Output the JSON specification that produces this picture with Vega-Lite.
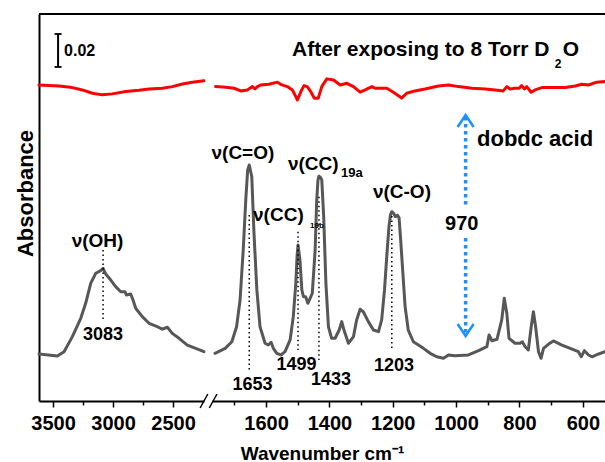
{
  "$schema": "https://vega.github.io/schema/vega-lite/v6.json",
  "autosize": {"type": "none"},
  "padding": {"left": 39, "top": 14, "right": 0, "bottom": 61},
  "width": 566,
  "height": 387,
  "config": {
    "view": {"stroke": null},
    "font": "Liberation Sans",
    "text": {"font": "Liberation Sans", "fontWeight": "bold", "color": "black", "baseline": "middle"}
  },
  "datasets": {
    "spectra": [
      {"wavenumber": 3617, "absorbance": 0.0285, "spectrum": "dobdc acid", "segment": "high"},
      {"wavenumber": 3464, "absorbance": 0.0273, "spectrum": "dobdc acid", "segment": "high"},
      {"wavenumber": 3408, "absorbance": 0.0299, "spectrum": "dobdc acid", "segment": "high"},
      {"wavenumber": 3339, "absorbance": 0.0390, "spectrum": "dobdc acid", "segment": "high"},
      {"wavenumber": 3269, "absorbance": 0.0501, "spectrum": "dobdc acid", "segment": "high"},
      {"wavenumber": 3228, "absorbance": 0.0592, "spectrum": "dobdc acid", "segment": "high"},
      {"wavenumber": 3186, "absorbance": 0.0713, "spectrum": "dobdc acid", "segment": "high"},
      {"wavenumber": 3144, "absorbance": 0.0774, "spectrum": "dobdc acid", "segment": "high"},
      {"wavenumber": 3103, "absorbance": 0.0790, "spectrum": "dobdc acid", "segment": "high"},
      {"wavenumber": 3083, "absorbance": 0.0804, "spectrum": "dobdc acid", "segment": "high"},
      {"wavenumber": 3061, "absorbance": 0.0770, "spectrum": "dobdc acid", "segment": "high"},
      {"wavenumber": 3019, "absorbance": 0.0733, "spectrum": "dobdc acid", "segment": "high"},
      {"wavenumber": 2978, "absorbance": 0.0693, "spectrum": "dobdc acid", "segment": "high"},
      {"wavenumber": 2936, "absorbance": 0.0662, "spectrum": "dobdc acid", "segment": "high"},
      {"wavenumber": 2900, "absorbance": 0.0662, "spectrum": "dobdc acid", "segment": "high"},
      {"wavenumber": 2889, "absorbance": 0.0642, "spectrum": "dobdc acid", "segment": "high"},
      {"wavenumber": 2853, "absorbance": 0.0648, "spectrum": "dobdc acid", "segment": "high"},
      {"wavenumber": 2833, "absorbance": 0.0612, "spectrum": "dobdc acid", "segment": "high"},
      {"wavenumber": 2811, "absorbance": 0.0562, "spectrum": "dobdc acid", "segment": "high"},
      {"wavenumber": 2756, "absorbance": 0.0511, "spectrum": "dobdc acid", "segment": "high"},
      {"wavenumber": 2700, "absorbance": 0.0471, "spectrum": "dobdc acid", "segment": "high"},
      {"wavenumber": 2631, "absorbance": 0.0450, "spectrum": "dobdc acid", "segment": "high"},
      {"wavenumber": 2589, "absorbance": 0.0435, "spectrum": "dobdc acid", "segment": "high"},
      {"wavenumber": 2547, "absorbance": 0.0447, "spectrum": "dobdc acid", "segment": "high"},
      {"wavenumber": 2506, "absorbance": 0.0410, "spectrum": "dobdc acid", "segment": "high"},
      {"wavenumber": 2450, "absorbance": 0.0380, "spectrum": "dobdc acid", "segment": "high"},
      {"wavenumber": 2381, "absorbance": 0.0339, "spectrum": "dobdc acid", "segment": "high"},
      {"wavenumber": 2311, "absorbance": 0.0319, "spectrum": "dobdc acid", "segment": "high"},
      {"wavenumber": 2242, "absorbance": 0.0299, "spectrum": "dobdc acid", "segment": "high"},
      {"wavenumber": 1761, "absorbance": 0.0289, "spectrum": "dobdc acid", "segment": "low"},
      {"wavenumber": 1729, "absorbance": 0.0319, "spectrum": "dobdc acid", "segment": "low"},
      {"wavenumber": 1708, "absorbance": 0.0359, "spectrum": "dobdc acid", "segment": "low"},
      {"wavenumber": 1693, "absorbance": 0.0450, "spectrum": "dobdc acid", "segment": "low"},
      {"wavenumber": 1682, "absorbance": 0.0612, "spectrum": "dobdc acid", "segment": "low"},
      {"wavenumber": 1672, "absorbance": 0.0915, "spectrum": "dobdc acid", "segment": "low"},
      {"wavenumber": 1664, "absorbance": 0.1218, "spectrum": "dobdc acid", "segment": "low"},
      {"wavenumber": 1658, "absorbance": 0.1400, "spectrum": "dobdc acid", "segment": "low"},
      {"wavenumber": 1653, "absorbance": 0.1430, "spectrum": "dobdc acid", "segment": "low"},
      {"wavenumber": 1645, "absorbance": 0.1359, "spectrum": "dobdc acid", "segment": "low"},
      {"wavenumber": 1638, "absorbance": 0.1016, "spectrum": "dobdc acid", "segment": "low"},
      {"wavenumber": 1629, "absorbance": 0.0673, "spectrum": "dobdc acid", "segment": "low"},
      {"wavenumber": 1619, "absorbance": 0.0450, "spectrum": "dobdc acid", "segment": "low"},
      {"wavenumber": 1603, "absorbance": 0.0350, "spectrum": "dobdc acid", "segment": "low"},
      {"wavenumber": 1593, "absorbance": 0.0339, "spectrum": "dobdc acid", "segment": "low"},
      {"wavenumber": 1584, "absorbance": 0.0356, "spectrum": "dobdc acid", "segment": "low"},
      {"wavenumber": 1577, "absorbance": 0.0319, "spectrum": "dobdc acid", "segment": "low"},
      {"wavenumber": 1566, "absorbance": 0.0289, "spectrum": "dobdc acid", "segment": "low"},
      {"wavenumber": 1553, "absorbance": 0.0279, "spectrum": "dobdc acid", "segment": "low"},
      {"wavenumber": 1540, "absorbance": 0.0299, "spectrum": "dobdc acid", "segment": "low"},
      {"wavenumber": 1524, "absorbance": 0.0370, "spectrum": "dobdc acid", "segment": "low"},
      {"wavenumber": 1514, "absorbance": 0.0511, "spectrum": "dobdc acid", "segment": "low"},
      {"wavenumber": 1506, "absorbance": 0.0713, "spectrum": "dobdc acid", "segment": "low"},
      {"wavenumber": 1502, "absorbance": 0.0880, "spectrum": "dobdc acid", "segment": "low"},
      {"wavenumber": 1499, "absorbance": 0.0945, "spectrum": "dobdc acid", "segment": "low"},
      {"wavenumber": 1493, "absorbance": 0.0855, "spectrum": "dobdc acid", "segment": "low"},
      {"wavenumber": 1487, "absorbance": 0.0673, "spectrum": "dobdc acid", "segment": "low"},
      {"wavenumber": 1482, "absorbance": 0.0632, "spectrum": "dobdc acid", "segment": "low"},
      {"wavenumber": 1475, "absorbance": 0.0632, "spectrum": "dobdc acid", "segment": "low"},
      {"wavenumber": 1468, "absorbance": 0.0592, "spectrum": "dobdc acid", "segment": "low"},
      {"wavenumber": 1461, "absorbance": 0.0622, "spectrum": "dobdc acid", "segment": "low"},
      {"wavenumber": 1454, "absorbance": 0.0653, "spectrum": "dobdc acid", "segment": "low"},
      {"wavenumber": 1445, "absorbance": 0.0915, "spectrum": "dobdc acid", "segment": "low"},
      {"wavenumber": 1440, "absorbance": 0.1218, "spectrum": "dobdc acid", "segment": "low"},
      {"wavenumber": 1436, "absorbance": 0.1340, "spectrum": "dobdc acid", "segment": "low"},
      {"wavenumber": 1433, "absorbance": 0.1362, "spectrum": "dobdc acid", "segment": "low"},
      {"wavenumber": 1428, "absorbance": 0.1355, "spectrum": "dobdc acid", "segment": "low"},
      {"wavenumber": 1424, "absorbance": 0.1339, "spectrum": "dobdc acid", "segment": "low"},
      {"wavenumber": 1418, "absorbance": 0.1117, "spectrum": "dobdc acid", "segment": "low"},
      {"wavenumber": 1411, "absorbance": 0.0713, "spectrum": "dobdc acid", "segment": "low"},
      {"wavenumber": 1403, "absorbance": 0.0450, "spectrum": "dobdc acid", "segment": "low"},
      {"wavenumber": 1393, "absorbance": 0.0380, "spectrum": "dobdc acid", "segment": "low"},
      {"wavenumber": 1382, "absorbance": 0.0380, "spectrum": "dobdc acid", "segment": "low"},
      {"wavenumber": 1369, "absorbance": 0.0430, "spectrum": "dobdc acid", "segment": "low"},
      {"wavenumber": 1361, "absorbance": 0.0481, "spectrum": "dobdc acid", "segment": "low"},
      {"wavenumber": 1354, "absorbance": 0.0430, "spectrum": "dobdc acid", "segment": "low"},
      {"wavenumber": 1340, "absorbance": 0.0350, "spectrum": "dobdc acid", "segment": "low"},
      {"wavenumber": 1324, "absorbance": 0.0390, "spectrum": "dobdc acid", "segment": "low"},
      {"wavenumber": 1314, "absorbance": 0.0491, "spectrum": "dobdc acid", "segment": "low"},
      {"wavenumber": 1303, "absorbance": 0.0556, "spectrum": "dobdc acid", "segment": "low"},
      {"wavenumber": 1293, "absorbance": 0.0541, "spectrum": "dobdc acid", "segment": "low"},
      {"wavenumber": 1277, "absorbance": 0.0481, "spectrum": "dobdc acid", "segment": "low"},
      {"wavenumber": 1261, "absorbance": 0.0430, "spectrum": "dobdc acid", "segment": "low"},
      {"wavenumber": 1245, "absorbance": 0.0420, "spectrum": "dobdc acid", "segment": "low"},
      {"wavenumber": 1235, "absorbance": 0.0491, "spectrum": "dobdc acid", "segment": "low"},
      {"wavenumber": 1226, "absorbance": 0.0673, "spectrum": "dobdc acid", "segment": "low"},
      {"wavenumber": 1219, "absorbance": 0.0875, "spectrum": "dobdc acid", "segment": "low"},
      {"wavenumber": 1212, "absorbance": 0.1056, "spectrum": "dobdc acid", "segment": "low"},
      {"wavenumber": 1207, "absorbance": 0.1130, "spectrum": "dobdc acid", "segment": "low"},
      {"wavenumber": 1203, "absorbance": 0.1147, "spectrum": "dobdc acid", "segment": "low"},
      {"wavenumber": 1198, "absorbance": 0.1140, "spectrum": "dobdc acid", "segment": "low"},
      {"wavenumber": 1192, "absorbance": 0.1117, "spectrum": "dobdc acid", "segment": "low"},
      {"wavenumber": 1185, "absorbance": 0.1125, "spectrum": "dobdc acid", "segment": "low"},
      {"wavenumber": 1180, "absorbance": 0.1110, "spectrum": "dobdc acid", "segment": "low"},
      {"wavenumber": 1175, "absorbance": 0.0976, "spectrum": "dobdc acid", "segment": "low"},
      {"wavenumber": 1168, "absorbance": 0.0774, "spectrum": "dobdc acid", "segment": "low"},
      {"wavenumber": 1161, "absorbance": 0.0572, "spectrum": "dobdc acid", "segment": "low"},
      {"wavenumber": 1151, "absorbance": 0.0430, "spectrum": "dobdc acid", "segment": "low"},
      {"wavenumber": 1135, "absorbance": 0.0359, "spectrum": "dobdc acid", "segment": "low"},
      {"wavenumber": 1119, "absorbance": 0.0339, "spectrum": "dobdc acid", "segment": "low"},
      {"wavenumber": 1103, "absorbance": 0.0319, "spectrum": "dobdc acid", "segment": "low"},
      {"wavenumber": 1082, "absorbance": 0.0289, "spectrum": "dobdc acid", "segment": "low"},
      {"wavenumber": 1061, "absorbance": 0.0268, "spectrum": "dobdc acid", "segment": "low"},
      {"wavenumber": 1040, "absorbance": 0.0259, "spectrum": "dobdc acid", "segment": "low"},
      {"wavenumber": 1024, "absorbance": 0.0279, "spectrum": "dobdc acid", "segment": "low"},
      {"wavenumber": 1003, "absorbance": 0.0274, "spectrum": "dobdc acid", "segment": "low"},
      {"wavenumber": 961, "absorbance": 0.0279, "spectrum": "dobdc acid", "segment": "low"},
      {"wavenumber": 929, "absorbance": 0.0305, "spectrum": "dobdc acid", "segment": "low"},
      {"wavenumber": 903, "absorbance": 0.0329, "spectrum": "dobdc acid", "segment": "low"},
      {"wavenumber": 896, "absorbance": 0.0400, "spectrum": "dobdc acid", "segment": "low"},
      {"wavenumber": 887, "absorbance": 0.0365, "spectrum": "dobdc acid", "segment": "low"},
      {"wavenumber": 871, "absorbance": 0.0374, "spectrum": "dobdc acid", "segment": "low"},
      {"wavenumber": 856, "absorbance": 0.0491, "spectrum": "dobdc acid", "segment": "low"},
      {"wavenumber": 848, "absorbance": 0.0622, "spectrum": "dobdc acid", "segment": "low"},
      {"wavenumber": 840, "absorbance": 0.0532, "spectrum": "dobdc acid", "segment": "low"},
      {"wavenumber": 833, "absorbance": 0.0380, "spectrum": "dobdc acid", "segment": "low"},
      {"wavenumber": 814, "absorbance": 0.0350, "spectrum": "dobdc acid", "segment": "low"},
      {"wavenumber": 798, "absorbance": 0.0350, "spectrum": "dobdc acid", "segment": "low"},
      {"wavenumber": 791, "absorbance": 0.0359, "spectrum": "dobdc acid", "segment": "low"},
      {"wavenumber": 782, "absorbance": 0.0329, "spectrum": "dobdc acid", "segment": "low"},
      {"wavenumber": 772, "absorbance": 0.0309, "spectrum": "dobdc acid", "segment": "low"},
      {"wavenumber": 763, "absorbance": 0.0450, "spectrum": "dobdc acid", "segment": "low"},
      {"wavenumber": 756, "absorbance": 0.0541, "spectrum": "dobdc acid", "segment": "low"},
      {"wavenumber": 749, "absorbance": 0.0450, "spectrum": "dobdc acid", "segment": "low"},
      {"wavenumber": 740, "absorbance": 0.0299, "spectrum": "dobdc acid", "segment": "low"},
      {"wavenumber": 732, "absorbance": 0.0259, "spectrum": "dobdc acid", "segment": "low"},
      {"wavenumber": 724, "absorbance": 0.0319, "spectrum": "dobdc acid", "segment": "low"},
      {"wavenumber": 708, "absorbance": 0.0345, "spectrum": "dobdc acid", "segment": "low"},
      {"wavenumber": 693, "absorbance": 0.0364, "spectrum": "dobdc acid", "segment": "low"},
      {"wavenumber": 666, "absorbance": 0.0339, "spectrum": "dobdc acid", "segment": "low"},
      {"wavenumber": 640, "absorbance": 0.0319, "spectrum": "dobdc acid", "segment": "low"},
      {"wavenumber": 614, "absorbance": 0.0299, "spectrum": "dobdc acid", "segment": "low"},
      {"wavenumber": 605, "absorbance": 0.0268, "spectrum": "dobdc acid", "segment": "low"},
      {"wavenumber": 595, "absorbance": 0.0305, "spectrum": "dobdc acid", "segment": "low"},
      {"wavenumber": 582, "absorbance": 0.0279, "spectrum": "dobdc acid", "segment": "low"},
      {"wavenumber": 571, "absorbance": 0.0268, "spectrum": "dobdc acid", "segment": "low"},
      {"wavenumber": 550, "absorbance": 0.0285, "spectrum": "dobdc acid", "segment": "low"},
      {"wavenumber": 530, "absorbance": 0.0299, "spectrum": "dobdc acid", "segment": "low"},
      {"wavenumber": 3617, "absorbance": 0.1915, "spectrum": "D2O", "segment": "high"},
      {"wavenumber": 3450, "absorbance": 0.1909, "spectrum": "D2O", "segment": "high"},
      {"wavenumber": 3339, "absorbance": 0.1899, "spectrum": "D2O", "segment": "high"},
      {"wavenumber": 3256, "absorbance": 0.1885, "spectrum": "D2O", "segment": "high"},
      {"wavenumber": 3172, "absorbance": 0.1865, "spectrum": "D2O", "segment": "high"},
      {"wavenumber": 3089, "absorbance": 0.1855, "spectrum": "D2O", "segment": "high"},
      {"wavenumber": 3006, "absorbance": 0.1861, "spectrum": "D2O", "segment": "high"},
      {"wavenumber": 2894, "absorbance": 0.1875, "spectrum": "D2O", "segment": "high"},
      {"wavenumber": 2783, "absorbance": 0.1883, "spectrum": "D2O", "segment": "high"},
      {"wavenumber": 2700, "absorbance": 0.1891, "spectrum": "D2O", "segment": "high"},
      {"wavenumber": 2589, "absorbance": 0.1895, "spectrum": "D2O", "segment": "high"},
      {"wavenumber": 2506, "absorbance": 0.1905, "spectrum": "D2O", "segment": "high"},
      {"wavenumber": 2422, "absorbance": 0.1921, "spectrum": "D2O", "segment": "high"},
      {"wavenumber": 2339, "absorbance": 0.1932, "spectrum": "D2O", "segment": "high"},
      {"wavenumber": 2242, "absorbance": 0.1941, "spectrum": "D2O", "segment": "high"},
      {"wavenumber": 1759, "absorbance": 0.1905, "spectrum": "D2O", "segment": "low"},
      {"wavenumber": 1727, "absorbance": 0.1901, "spectrum": "D2O", "segment": "low"},
      {"wavenumber": 1701, "absorbance": 0.1895, "spectrum": "D2O", "segment": "low"},
      {"wavenumber": 1680, "absorbance": 0.1879, "spectrum": "D2O", "segment": "low"},
      {"wavenumber": 1659, "absorbance": 0.1885, "spectrum": "D2O", "segment": "low"},
      {"wavenumber": 1643, "absorbance": 0.1905, "spectrum": "D2O", "segment": "low"},
      {"wavenumber": 1635, "absorbance": 0.1891, "spectrum": "D2O", "segment": "low"},
      {"wavenumber": 1627, "absorbance": 0.1905, "spectrum": "D2O", "segment": "low"},
      {"wavenumber": 1617, "absorbance": 0.1915, "spectrum": "D2O", "segment": "low"},
      {"wavenumber": 1591, "absorbance": 0.1919, "spectrum": "D2O", "segment": "low"},
      {"wavenumber": 1564, "absorbance": 0.1932, "spectrum": "D2O", "segment": "low"},
      {"wavenumber": 1554, "absorbance": 0.1919, "spectrum": "D2O", "segment": "low"},
      {"wavenumber": 1533, "absorbance": 0.1905, "spectrum": "D2O", "segment": "low"},
      {"wavenumber": 1517, "absorbance": 0.1885, "spectrum": "D2O", "segment": "low"},
      {"wavenumber": 1506, "absorbance": 0.1844, "spectrum": "D2O", "segment": "low"},
      {"wavenumber": 1501, "absorbance": 0.1824, "spectrum": "D2O", "segment": "low"},
      {"wavenumber": 1490, "absorbance": 0.1875, "spectrum": "D2O", "segment": "low"},
      {"wavenumber": 1480, "absorbance": 0.1911, "spectrum": "D2O", "segment": "low"},
      {"wavenumber": 1470, "absorbance": 0.1905, "spectrum": "D2O", "segment": "low"},
      {"wavenumber": 1459, "absorbance": 0.1875, "spectrum": "D2O", "segment": "low"},
      {"wavenumber": 1448, "absorbance": 0.1835, "spectrum": "D2O", "segment": "low"},
      {"wavenumber": 1435, "absorbance": 0.1835, "spectrum": "D2O", "segment": "low"},
      {"wavenumber": 1424, "absorbance": 0.1905, "spectrum": "D2O", "segment": "low"},
      {"wavenumber": 1408, "absorbance": 0.1952, "spectrum": "D2O", "segment": "low"},
      {"wavenumber": 1387, "absorbance": 0.1945, "spectrum": "D2O", "segment": "low"},
      {"wavenumber": 1366, "absorbance": 0.1915, "spectrum": "D2O", "segment": "low"},
      {"wavenumber": 1345, "absorbance": 0.1925, "spectrum": "D2O", "segment": "low"},
      {"wavenumber": 1324, "absorbance": 0.1905, "spectrum": "D2O", "segment": "low"},
      {"wavenumber": 1303, "absorbance": 0.1871, "spectrum": "D2O", "segment": "low"},
      {"wavenumber": 1287, "absorbance": 0.1885, "spectrum": "D2O", "segment": "low"},
      {"wavenumber": 1266, "absorbance": 0.1905, "spectrum": "D2O", "segment": "low"},
      {"wavenumber": 1256, "absorbance": 0.1895, "spectrum": "D2O", "segment": "low"},
      {"wavenumber": 1235, "absorbance": 0.1895, "spectrum": "D2O", "segment": "low"},
      {"wavenumber": 1219, "absorbance": 0.1895, "spectrum": "D2O", "segment": "low"},
      {"wavenumber": 1198, "absorbance": 0.1871, "spectrum": "D2O", "segment": "low"},
      {"wavenumber": 1182, "absorbance": 0.1850, "spectrum": "D2O", "segment": "low"},
      {"wavenumber": 1172, "absorbance": 0.1835, "spectrum": "D2O", "segment": "low"},
      {"wavenumber": 1156, "absorbance": 0.1865, "spectrum": "D2O", "segment": "low"},
      {"wavenumber": 1130, "absorbance": 0.1879, "spectrum": "D2O", "segment": "low"},
      {"wavenumber": 1098, "absorbance": 0.1891, "spectrum": "D2O", "segment": "low"},
      {"wavenumber": 1056, "absorbance": 0.1909, "spectrum": "D2O", "segment": "low"},
      {"wavenumber": 1024, "absorbance": 0.1915, "spectrum": "D2O", "segment": "low"},
      {"wavenumber": 993, "absorbance": 0.1905, "spectrum": "D2O", "segment": "low"},
      {"wavenumber": 950, "absorbance": 0.1895, "spectrum": "D2O", "segment": "low"},
      {"wavenumber": 908, "absorbance": 0.1891, "spectrum": "D2O", "segment": "low"},
      {"wavenumber": 877, "absorbance": 0.1885, "spectrum": "D2O", "segment": "low"},
      {"wavenumber": 851, "absorbance": 0.1879, "spectrum": "D2O", "segment": "low"},
      {"wavenumber": 840, "absorbance": 0.1905, "spectrum": "D2O", "segment": "low"},
      {"wavenumber": 830, "absorbance": 0.1891, "spectrum": "D2O", "segment": "low"},
      {"wavenumber": 814, "absorbance": 0.1895, "spectrum": "D2O", "segment": "low"},
      {"wavenumber": 801, "absorbance": 0.1895, "spectrum": "D2O", "segment": "low"},
      {"wavenumber": 793, "absorbance": 0.1911, "spectrum": "D2O", "segment": "low"},
      {"wavenumber": 784, "absorbance": 0.1891, "spectrum": "D2O", "segment": "low"},
      {"wavenumber": 777, "absorbance": 0.1905, "spectrum": "D2O", "segment": "low"},
      {"wavenumber": 763, "absorbance": 0.1871, "spectrum": "D2O", "segment": "low"},
      {"wavenumber": 751, "absorbance": 0.1885, "spectrum": "D2O", "segment": "low"},
      {"wavenumber": 729, "absorbance": 0.1899, "spectrum": "D2O", "segment": "low"},
      {"wavenumber": 698, "absorbance": 0.1899, "spectrum": "D2O", "segment": "low"},
      {"wavenumber": 656, "absorbance": 0.1899, "spectrum": "D2O", "segment": "low"},
      {"wavenumber": 624, "absorbance": 0.1909, "spectrum": "D2O", "segment": "low"},
      {"wavenumber": 603, "absorbance": 0.1919, "spectrum": "D2O", "segment": "low"},
      {"wavenumber": 582, "absorbance": 0.1915, "spectrum": "D2O", "segment": "low"},
      {"wavenumber": 556, "absorbance": 0.1932, "spectrum": "D2O", "segment": "low"},
      {"wavenumber": 530, "absorbance": 0.1936, "spectrum": "D2O", "segment": "low"}
    ],
    "frame": [
      {"wavenumber": 3617, "wavenumber_end": 530, "absorbance": 0.2345}
    ],
    "leaders": [
      {"wavenumber": 3083, "absorbance": 0.0915, "absorbance_end": 0.0481},
      {"wavenumber": 1653, "absorbance": 0.1127, "absorbance_end": 0.0188},
      {"wavenumber": 1499, "absorbance": 0.1026, "absorbance_end": 0.0309},
      {"wavenumber": 1433, "absorbance": 0.1238, "absorbance_end": 0.0248},
      {"wavenumber": 1203, "absorbance": 0.1121, "absorbance_end": 0.0321}
    ],
    "arrow": [
      {"wavenumber": 970, "absorbance": 0.1721, "absorbance_end": 0.1188},
      {"wavenumber": 970, "absorbance": 0.0988, "absorbance_end": 0.0406}
    ],
    "arrowheads": [
      {"wavenumber": 970, "absorbance": 0.1697, "direction": "up"},
      {"wavenumber": 970, "absorbance": 0.0430, "direction": "down"}
    ],
    "scalebar": [
      {"wavenumber": 3458, "absorbance": 0.2224, "absorbance_end": 0.2024}
    ],
    "scalebar_ends": [
      {"wavenumber": 3458, "absorbance": 0.2224},
      {"wavenumber": 3458, "absorbance": 0.2024}
    ],
    "axis_gap": [
      {"wavenumber": 2204, "absorbance": 0}
    ],
    "axis_break": [
      {"wavenumber": 2242, "absorbance": 0},
      {"wavenumber": 1767, "absorbance": 0}
    ],
    "notes": [
      {"label": "ν(OH)", "wavenumber": 3129, "absorbance": 0.0967, "role": "band"},
      {"label": "ν(C=O)", "wavenumber": 1673, "absorbance": 0.1500, "role": "band"},
      {"label": "ν(C-O)", "wavenumber": 1171, "absorbance": 0.1267, "role": "band"},
      {"label": "3083", "wavenumber": 3083, "absorbance": 0.0400, "role": "peak"},
      {"label": "1653", "wavenumber": 1643, "absorbance": 0.0097, "role": "peak"},
      {"label": "1499", "wavenumber": 1504, "absorbance": 0.0218, "role": "peak"},
      {"label": "1433", "wavenumber": 1395, "absorbance": 0.0127, "role": "peak"},
      {"label": "1203", "wavenumber": 1196, "absorbance": 0.0215, "role": "peak"},
      {"label": "970", "wavenumber": 982, "absorbance": 0.1070, "role": "value"},
      {"label": "ν(CC)", "wavenumber": 1641, "absorbance": 0.1127, "role": "ring band"},
      {"label": "19b", "wavenumber": 1461, "absorbance": 0.1060, "role": "small subscript"},
      {"label": "ν(CC)", "wavenumber": 1531, "absorbance": 0.1436, "role": "ring band"},
      {"label": "19a", "wavenumber": 1363, "absorbance": 0.1382, "role": "subscript"},
      {"label": "After exposing to 8 Torr D", "wavenumber": 1518, "absorbance": 0.2127, "role": "caption"},
      {"label": "2", "wavenumber": 689, "absorbance": 0.2045, "role": "caption subscript"},
      {"label": "O", "wavenumber": 663, "absorbance": 0.2127, "role": "caption"},
      {"label": "dobdc acid", "wavenumber": 934, "absorbance": 0.1590, "role": "name"},
      {"label": "0.02", "wavenumber": 3408, "absorbance": 0.2121, "role": "scale"}
    ]
  },
  "encoding": {
    "x": {
      "field": "wavenumber",
      "type": "quantitative",
      "scale": {"type": "linear", "domain": [3617, 2200, 1775, 530], "range": [0, 170, 171.6, 566], "nice": false, "zero": false},
      "axis": {
        "title": "Wavenumber cm⁻¹",
        "values": [3500, 3250, 3000, 2750, 2500, 1700, 1600, 1500, 1400, 1300, 1200, 1100, 1000, 900, 800, 700, 600],
        "format": "d",
        "labelExpr": "(datum.value > 2000 && datum.value % 500 == 0) || (datum.value < 2000 && datum.value % 200 == 0) ? datum.label : ''",
        "grid": false,
        "domainColor": "black",
        "domainWidth": 2,
        "tickColor": "black",
        "tickWidth": 1.5,
        "tickSize": {"condition": {"test": "(datum.value > 2000 && datum.value % 500 == 0) || (datum.value < 2000 && datum.value % 200 == 0)", "value": 6}, "value": 4},
        "labelFont": "Liberation Sans",
        "labelFontWeight": "bold",
        "labelFontSize": 20,
        "labelColor": "black",
        "labelPadding": 6,
        "labelFlush": false,
        "labelOverlap": false,
        "titleFont": "Liberation Sans",
        "titleFontWeight": "bold",
        "titleFontSize": 19,
        "titleColor": "black",
        "titleBaseline": "top",
        "titleY": 43
      }
    },
    "y": {
      "field": "absorbance",
      "type": "quantitative",
      "scale": {"domain": [0, 0.2345], "nice": false, "zero": false},
      "axis": {
        "title": "Absorbance",
        "labels": false,
        "ticks": false,
        "grid": false,
        "domainColor": "black",
        "domainWidth": 2,
        "titleFont": "Liberation Sans",
        "titleFontWeight": "bold",
        "titleFontSize": 22,
        "titleColor": "black",
        "titlePadding": 2,
        "titleY": 179
      }
    }
  },
  "layer": [
    {
      "data": {"name": "frame"},
      "mark": {"type": "rule", "color": "black", "strokeWidth": 2},
      "encoding": {"x2": {"field": "wavenumber_end"}}
    },
    {
      "data": {"name": "spectra"},
      "mark": {"type": "line", "strokeWidth": 3, "strokeJoin": "round", "strokeCap": "round"},
      "encoding": {
        "color": {"field": "spectrum", "type": "nominal", "scale": {"domain": ["dobdc acid", "D2O"], "range": ["#575757", "#ff0000"]}, "legend": null},
        "detail": {"field": "segment"}
      }
    },
    {
      "data": {"name": "leaders"},
      "mark": {"type": "rule", "color": "black", "strokeWidth": 1.5, "strokeDash": [1.5, 3]},
      "encoding": {"y2": {"field": "absorbance_end"}}
    },
    {
      "data": {"name": "arrow"},
      "mark": {"type": "rule", "color": "#1e8fff", "strokeWidth": 3.5, "strokeDash": [3.5, 3.5]},
      "encoding": {"y2": {"field": "absorbance_end"}}
    },
    {
      "data": {"name": "arrowheads"},
      "mark": {"type": "point", "filled": false, "size": 256, "strokeWidth": 2.5, "color": "#1e8fff", "opacity": 1},
      "encoding": {
        "shape": {"field": "direction", "type": "nominal", "scale": {"domain": ["up", "down"], "range": ["M-1,0.75L0,-0.75L1,0.75", "M-1,-0.75L0,0.75L1,-0.75"]}, "legend": null}
      }
    },
    {
      "data": {"name": "scalebar"},
      "mark": {"type": "rule", "color": "black", "strokeWidth": 2},
      "encoding": {"y2": {"field": "absorbance_end"}}
    },
    {
      "data": {"name": "scalebar_ends"},
      "mark": {"type": "tick", "orient": "horizontal", "color": "black", "size": 7, "thickness": 1.8, "opacity": 1}
    },
    {
      "data": {"name": "axis_gap"},
      "mark": {"type": "point", "shape": "square", "size": 64, "filled": true, "color": "white", "opacity": 1}
    },
    {
      "data": {"name": "axis_break"},
      "mark": {"type": "point", "shape": "M-0.55,1L0.55,-1", "size": 196, "filled": false, "color": "black", "strokeWidth": 1.5, "opacity": 1}
    },
    {
      "data": {"name": "notes"},
      "transform": [{"filter": "datum.role == 'band'"}],
      "mark": {"type": "text", "align": "center", "fontSize": 19},
      "encoding": {"text": {"field": "label"}}
    },
    {
      "data": {"name": "notes"},
      "transform": [{"filter": "datum.role == 'peak'"}],
      "mark": {"type": "text", "align": "center", "fontSize": 18},
      "encoding": {"text": {"field": "label"}}
    },
    {
      "data": {"name": "notes"},
      "transform": [{"filter": "datum.role == 'value'"}],
      "mark": {"type": "text", "align": "center", "fontSize": 20},
      "encoding": {"text": {"field": "label"}}
    },
    {
      "data": {"name": "notes"},
      "transform": [{"filter": "datum.role == 'ring band'"}],
      "mark": {"type": "text", "align": "left", "fontSize": 19},
      "encoding": {"text": {"field": "label"}}
    },
    {
      "data": {"name": "notes"},
      "transform": [{"filter": "datum.role == 'small subscript'"}],
      "mark": {"type": "text", "align": "left", "fontSize": 8},
      "encoding": {"text": {"field": "label"}}
    },
    {
      "data": {"name": "notes"},
      "transform": [{"filter": "datum.role == 'subscript'"}],
      "mark": {"type": "text", "align": "left", "fontSize": 13},
      "encoding": {"text": {"field": "label"}}
    },
    {
      "data": {"name": "notes"},
      "transform": [{"filter": "datum.role == 'caption'"}],
      "mark": {"type": "text", "align": "left", "fontSize": 21},
      "encoding": {"text": {"field": "label"}}
    },
    {
      "data": {"name": "notes"},
      "transform": [{"filter": "datum.role == 'caption subscript'"}],
      "mark": {"type": "text", "align": "left", "fontSize": 12},
      "encoding": {"text": {"field": "label"}}
    },
    {
      "data": {"name": "notes"},
      "transform": [{"filter": "datum.role == 'name'"}],
      "mark": {"type": "text", "align": "left", "fontSize": 22},
      "encoding": {"text": {"field": "label"}}
    },
    {
      "data": {"name": "notes"},
      "transform": [{"filter": "datum.role == 'scale'"}],
      "mark": {"type": "text", "align": "left", "fontSize": 16},
      "encoding": {"text": {"field": "label"}}
    }
  ]
}
